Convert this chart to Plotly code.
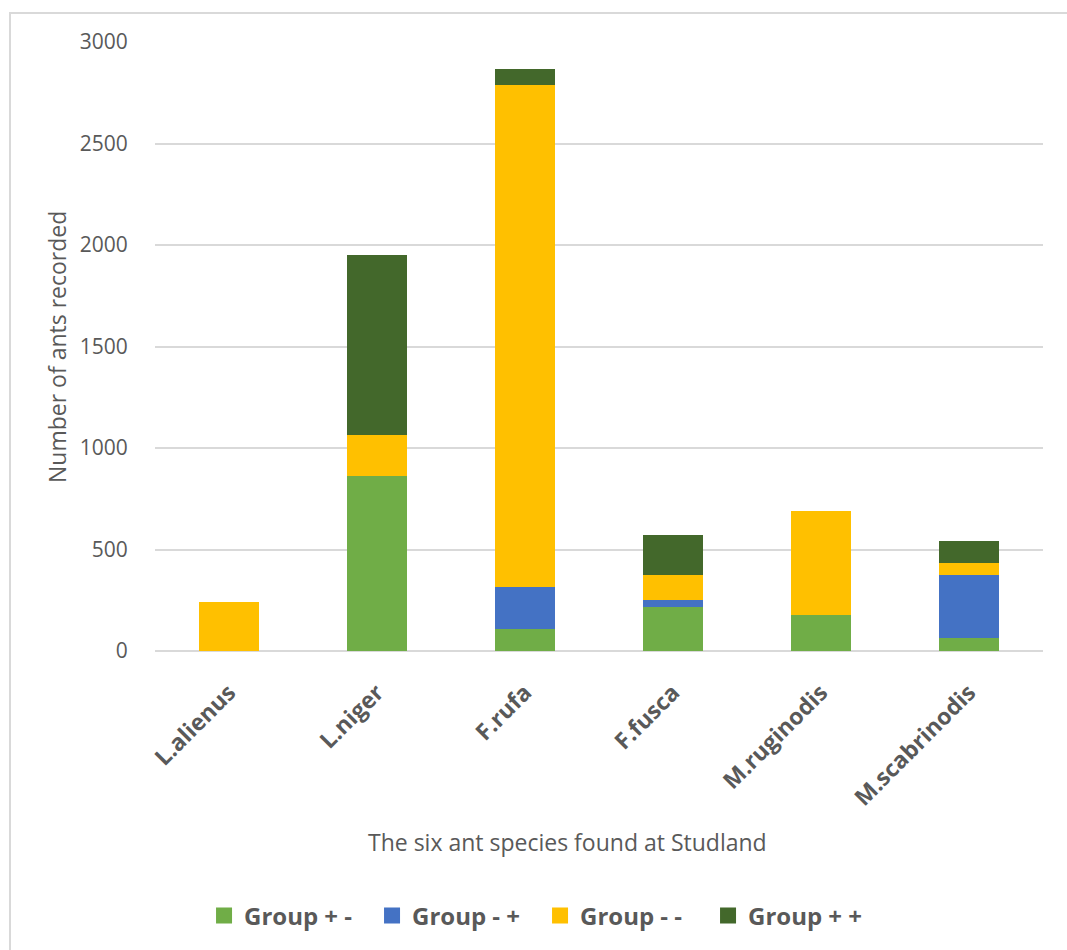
import plotly.graph_objects as go

species = ["L.alienus", "L.niger", "F.rufa", "F.fusca", "M.ruginodis", "M.scabrinodis"]
group_pm = [0, 860, 106, 218, 179, 66]      # Group + -
group_mp = [0, 0, 208, 33, 0, 307]          # Group - +
group_mm = [240, 202, 2476, 123, 511, 59]   # Group - -
group_pp = [0, 891, 75, 197, 0, 110]        # Group + +

series = [
    ("Group + -", group_pm, "#70AD47"),
    ("Group - +", group_mp, "#4472C4"),
    ("Group - -", group_mm, "#FFC000"),
    ("Group + +", group_pp, "#43682B"),
]

FONT = "Open Sans, Liberation Sans, sans-serif"
GREY = "#595959"

fig = go.Figure()
for name, vals, col in series:
    fig.add_trace(go.Bar(x=species, y=vals, name=name, legendgroup=name, showlegend=False,
                         marker=dict(color=col, line=dict(width=0))))
# legend entries with larger square swatches
for name, vals, col in series:
    fig.add_trace(go.Scatter(x=[None], y=[None], mode="markers", name=name, legendgroup=name,
                             marker=dict(symbol="square", size=16, color=col), showlegend=True))

fig.update_layout(
    barmode="stack",
    bargap=0.6,
    width=1067, height=950,
    margin=dict(l=155, r=24, t=42, b=299),
    paper_bgcolor="white", plot_bgcolor="white",
    font=dict(family=FONT, color=GREY),
    showlegend=True,
    legend=dict(orientation="h", x=0.4336, xanchor="center", y=-0.435, yanchor="middle",
                font=dict(size=24, color=GREY, family=FONT, weight="bold"),
                traceorder="normal", itemsizing="trace",
                entrywidth=123, entrywidthmode="pixels"),
    xaxis=dict(tickangle=-45, tickfont=dict(size=23, color=GREY, weight="bold"),
               showgrid=False, showline=False,
               ticks="outside", ticklen=18, tickcolor="rgba(0,0,0,0)"),
    yaxis=dict(range=[0, 3000], dtick=500, showgrid=True, gridcolor="#D9D9D9", gridwidth=1.5,
               zeroline=True, zerolinecolor="#D9D9D9", zerolinewidth=1.5,
               tickfont=dict(size=21, color=GREY),
               ticks="outside", ticklen=22, tickcolor="rgba(0,0,0,0)", showline=False),
    annotations=[
        dict(text="Number of ants recorded", xref="paper", yref="paper",
             x=(57 - 155) / 888, y=(651 - 347) / 609, textangle=-90, showarrow=False,
             xanchor="center", yanchor="middle", font=dict(size=23, color=GREY)),
        dict(text="The six ant species found at Studland", xref="paper", yref="paper",
             x=(567 - 155) / 888, y=(651 - 842) / 609, showarrow=False,
             xanchor="center", yanchor="middle", font=dict(size=23, color=GREY)),
    ],
    shapes=[
        dict(type="rect", xref="paper", yref="paper",
             x0=(10 - 155) / 888, y0=-1.0, x1=1.2, y1=(651 - 13) / 609,
             line=dict(color="#D9D9D9", width=2), fillcolor="rgba(0,0,0,0)", layer="below"),
    ],
)

fig.write_html("out.html")
